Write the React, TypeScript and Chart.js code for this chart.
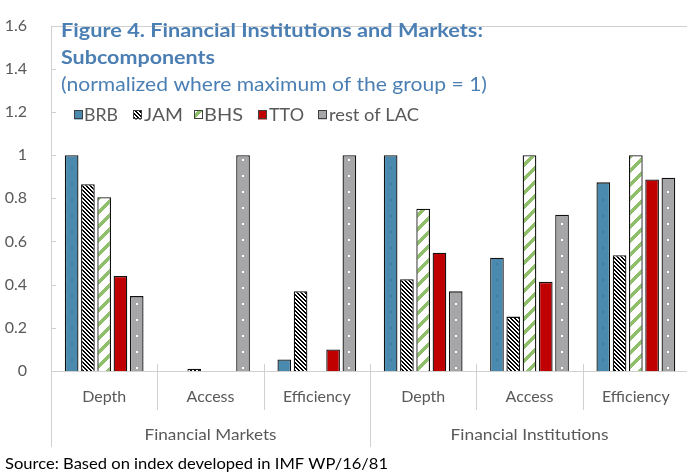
import React, { useEffect, useRef } from 'react';
import { Chart, registerables } from 'chart.js';

Chart.register(...registerables);

// ---------- data ----------
const categories = ['Depth', 'Access', 'Efficiency', 'Depth', 'Access', 'Efficiency'];
const groupLabels = ['Financial Markets', 'Financial Institutions'];
const seriesNames = ['BRB', 'JAM', 'BHS', 'TTO', 'rest of LAC'];
const brbValues = [1.0, 0, 0.053, 1.0, 0.525, 0.874];
const jamValues = [0.865, 0.01, 0.37, 0.425, 0.252, 0.536];
const bhsValues = [0.805, 0, 0, 0.752, 1.0, 1.0];
const ttoValues = [0.44, 0, 0.1, 0.548, 0.413, 0.887];
const restValues = [0.347, 1.0, 1.0, 0.369, 0.724, 0.895];
const yMin = 0;
const yMax = 1.6;
const yStep = 0.2;
const titleLine1 = 'Figure 4. Financial Institutions and Markets:';
const titleLine2 = 'Subcomponents';
const titleLine3 = '(normalized where maximum of the group = 1)';
const sourceText = 'Source: Based on index developed in IMF WP/16/81';

// ---------- styles ----------
const FONT = 'Lato, "Open Sans", "DejaVu Sans", sans-serif';
const TEXT = '#595959';
const TITLE = '#4b7fb3';
const AXIS = '#d0d0d0';
const BLUE = '#4a8aae';
const RED = '#c00000';
const GRAY = '#a6a6a9';
const GREEN = '#8fbf6a';
const EDGE = '#111111';

function makeTile(size: number, fn: (x: number, y: number) => string) {
  const c = document.createElement('canvas');
  c.width = size;
  c.height = size;
  const g = c.getContext('2d')!;
  for (let y = 0; y < size; y++) {
    for (let x = 0; x < size; x++) {
      g.fillStyle = fn(x, y);
      g.fillRect(x, y, 1, 1);
    }
  }
  return c;
}

function fitText(
  ctx: CanvasRenderingContext2D,
  text: string,
  x: number,
  y: number,
  width: number,
  font: string,
  color: string,
  align: 'left' | 'center' = 'left'
) {
  ctx.save();
  ctx.font = font;
  ctx.fillStyle = color;
  ctx.textBaseline = 'alphabetic';
  ctx.textAlign = 'left';
  const w = ctx.measureText(text).width;
  const s = width / w;
  const x0 = align === 'center' ? x - width / 2 : x;
  ctx.translate(x0, y);
  ctx.scale(s, 1);
  ctx.fillText(text, 0, 0);
  ctx.restore();
}

export default function App() {
  const ref = useRef<HTMLCanvasElement | null>(null);

  useEffect(() => {
    const canvas = ref.current!;
    const ctx = canvas.getContext('2d')!;
    const jamPattern = ctx.createPattern(
      makeTile(4, (x, y) => (((x - y) % 4) + 4) % 4 < 2 ? '#000000' : '#ffffff'),
      'repeat'
    )!;
    const bhsPattern = ctx.createPattern(
      makeTile(14, (x, y) => ((x + y) % 14) < 5 ? GREEN : '#ffffff'),
      'repeat'
    )!;

    const fills: any[] = [BLUE, jamPattern, bhsPattern, RED, GRAY];
    const values = [brbValues, jamValues, bhsValues, ttoValues, restValues];

    const decor = {
      id: 'decor',
      beforeDatasetsDraw(chart: any) {
        const c = chart.ctx as CanvasRenderingContext2D;
        const { left, top, bottom } = chart.chartArea;
        const xs = chart.scales.x;
        const ys = chart.scales.y;
        c.save();
        c.strokeStyle = AXIS;
        c.lineWidth = 1;
        c.beginPath();
        c.moveTo(left, Math.round(top) + 0.5);
        c.lineTo(chart.width, Math.round(top) + 0.5);
        c.stroke();
        c.beginPath();
        c.moveTo(left, Math.round(bottom) + 0.5);
        c.lineTo(chart.width, Math.round(bottom) + 0.5);
        c.stroke();
        c.beginPath();
        c.moveTo(Math.round(left) + 0.5, top);
        c.lineTo(Math.round(left) + 0.5, bottom + 76);
        c.stroke();
        for (let v = yMin + yStep; v <= yMax + 1e-9; v += yStep) {
          const py = Math.round(ys.getPixelForValue(v)) + 0.5;
          c.beginPath();
          c.moveTo(left, py);
          c.lineTo(left + 5, py);
          c.stroke();
        }
        for (let i = 0; i < categories.length - 1; i++) {
          const px = Math.round((xs.getPixelForValue(i) + xs.getPixelForValue(i + 1)) / 2) + 0.5;
          const isGroup = i === 2;
          c.beginPath();
          c.moveTo(px, bottom - 7);
          c.lineTo(px, bottom + (isGroup ? 76 : 39));
          c.stroke();
        }
        c.restore();
      },
      afterDatasetsDraw(chart: any) {
        const c = chart.ctx as CanvasRenderingContext2D;
        c.save();
        const meta = chart.getDatasetMeta(4);
        c.fillStyle = '#ffffff';
        meta.data.forEach((el: any) => {
          const p = el.getProps(['x', 'y', 'base'], true);
          for (let yy = p.base - 3; yy > p.y + 4; yy -= 16) {
            c.fillRect(Math.round(p.x) - 1, Math.round(yy) - 1, 2, 2);
          }
        });
        const m0 = chart.getDatasetMeta(0);
        c.fillStyle = '#3f7b9e';
        m0.data.forEach((el: any) => {
          const p = el.getProps(['x', 'y', 'base'], true);
          for (let yy = p.base - 11; yy > p.y + 4; yy -= 16) {
            c.fillRect(Math.round(p.x) - 1, Math.round(yy) - 1, 2, 2);
          }
        });
        c.restore();
      },
      afterDraw(chart: any) {
        const c = chart.ctx as CanvasRenderingContext2D;
        const xs = chart.scales.x;
        fitText(c, titleLine1, 61, 36.7, 422, `bold 19.5px ${FONT}`, TITLE);
        fitText(c, titleLine2, 61, 64, 154, `bold 19.5px ${FONT}`, TITLE);
        fitText(c, titleLine3, 61, 91, 426, `19px ${FONT}`, TITLE);
        const sqX = [74, 133, 194, 258, 318];
        const txX = [84, 144, 204, 269, 329];
        const txW = [34, 39, 39, 35, 90];
        seriesNames.forEach((name, i) => {
          c.save();
          c.fillStyle = fills[i];
          c.fillRect(sqX[i], 110.5, 9, 9);
          c.strokeStyle = '#404040';
          c.lineWidth = 1;
          c.strokeRect(sqX[i] + 0.5, 110.5, 8, 8);
          c.restore();
          fitText(c, name, txX[i], 120.5, txW[i], `16.5px ${FONT}`, TEXT);
        });
        const g1 = (xs.getPixelForValue(0) + xs.getPixelForValue(2)) / 2;
        const g2 = (xs.getPixelForValue(3) + xs.getPixelForValue(5)) / 2;
        fitText(c, groupLabels[0], g1, 440, 132, `16px ${FONT}`, TEXT, 'center');
        fitText(c, groupLabels[1], g2, 440, 158, `16px ${FONT}`, TEXT, 'center');
        fitText(c, sourceText, 5, 469, 383, `15px ${FONT}`, '#000000');
      },
    };

    const chart = new Chart(canvas, {
      type: 'bar',
      data: {
        labels: categories,
        datasets: seriesNames.map((name, i) => ({
          label: name,
          data: values[i],
          backgroundColor: fills[i],
          borderColor: EDGE,
          borderWidth: 1.3,
          borderSkipped: 'start',
          categoryPercentage: 0.765,
          barPercentage: 0.84,
        })),
      },
      options: {
        responsive: false,
        animation: false,
        layout: { padding: { left: 0, right: 11, top: 16, bottom: 0 } },
        plugins: {
          legend: { display: false },
          title: { display: false },
          tooltip: { enabled: false },
        },
        scales: {
          x: {
            grid: { display: false },
            border: { display: false },
            ticks: {
              font: { family: FONT, size: 16 },
              color: TEXT,
              padding: 8,
              maxRotation: 0,
              autoSkip: false,
            },
            afterFit: (s: any) => {
              s.height = 101;
            },
          },
          y: {
            min: yMin,
            max: yMax,
            grid: { display: false },
            border: { display: false },
            ticks: {
              stepSize: yStep,
              font: { family: FONT, size: 16 },
              color: TEXT,
              padding: 16,
              callback: (v: any) => String(Number(Number(v).toFixed(1))),
            },
            afterFit: (s: any) => {
              s.width = 51;
            },
          },
        },
      },
      plugins: [decor],
    } as any);

    return () => chart.destroy();
  }, []);

  return (
    <div
      style={{
        position: 'fixed',
        left: 0,
        top: 0,
        width: 687,
        height: 472,
        overflow: 'hidden',
        background: '#ffffff',
      }}
    >
      <canvas ref={ref} width={700} height={472} style={{ width: 700, height: 472, display: 'block' }} />
    </div>
  );
}
